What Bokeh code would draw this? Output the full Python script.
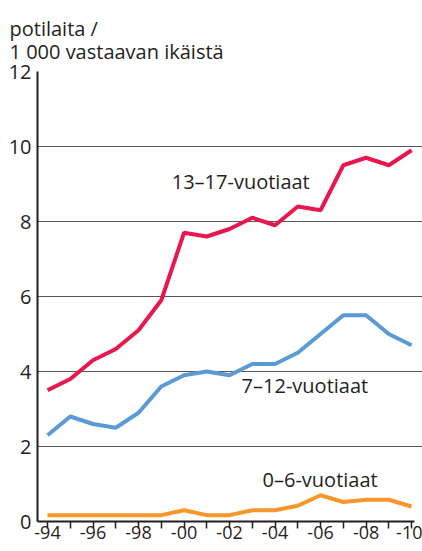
from bokeh.plotting import figure
from bokeh.models import Title, Label, FixedTicker, Range1d
from bokeh.embed import file_html
from bokeh.resources import INLINE

years = list(range(1994, 2011))
teens = [3.5, 3.8, 4.3, 4.6, 5.1, 5.9, 7.7, 7.6, 7.8, 8.1, 7.9, 8.4, 8.3, 9.5, 9.7, 9.5, 9.9]
kids = [2.3, 2.8, 2.6, 2.5, 2.9, 3.6, 3.9, 4.0, 3.9, 4.2, 4.2, 4.5, 5.0, 5.5, 5.5, 5.0, 4.7]
small = [0.17, 0.17, 0.17, 0.17, 0.17, 0.17, 0.3, 0.17, 0.17, 0.3, 0.3, 0.42, 0.7, 0.52, 0.58, 0.58, 0.4]
y_ticks = [0, 2, 4, 6, 8, 10, 12]
x_labels = {y: ("-%02d" % (y % 100) if y % 2 == 0 else "") for y in years}
title_lines = ["potilaita /", "1 000 vastaavan ikäistä"]
series_names = ["13–17-vuotiaat", "7–12-vuotiaat", "0–6-vuotiaat"]

FONT = "Open Sans"
TXT = "#231f20"

p = figure(width=422, height=551, output_backend="svg", toolbar_location=None,
           x_range=Range1d(1993.56, 2010.48), y_range=Range1d(0, 12),
           min_border_left=37, min_border_right=0, min_border_top=71, min_border_bottom=30)
p.outline_line_color = None
p.background_fill_color = "white"

p.line(years, teens, line_color="#e8184e", line_width=4)
p.line(years, kids, line_color="#5b9bd5", line_width=4)
p.line(years, small, line_color="#f7962a", line_width=4)

p.xgrid.visible = False
p.ygrid.ticker = FixedTicker(ticks=y_ticks)
p.ygrid.grid_line_color = "#555555"
p.ygrid.grid_line_width = 1

p.yaxis.ticker = FixedTicker(ticks=y_ticks)
p.yaxis.axis_line_color = TXT
p.yaxis.axis_line_width = 2
p.yaxis.major_tick_out = 0
p.yaxis.major_tick_in = 0
p.yaxis.minor_tick_out = 0
p.yaxis.minor_tick_in = 0
p.yaxis.major_label_standoff = 6
p.yaxis.major_label_text_font = FONT
p.yaxis.major_label_text_font_size = "20px"
p.yaxis.major_label_text_color = TXT

p.xaxis.ticker = FixedTicker(ticks=years)
p.xaxis.major_label_overrides = x_labels
p.xaxis.bounds = (1993.56, 2010.15)
p.xaxis.axis_line_color = TXT
p.xaxis.axis_line_width = 2
p.xaxis.major_tick_out = 7
p.xaxis.major_tick_in = 0
p.xaxis.major_tick_line_color = TXT
p.xaxis.major_tick_line_width = 1.5
p.xaxis.minor_tick_out = 0
p.xaxis.major_label_standoff = -3
p.xaxis.major_label_text_font = FONT
p.xaxis.major_label_text_font_size = "18px"
p.xaxis.major_label_text_color = TXT

p.add_layout(Title(text="\n".join(title_lines), align="left", offset=-28, text_font=FONT,
                   text_font_size="20px", text_font_style="normal", text_line_height=0.87,
                   text_color=TXT, standoff=12), "above")

for x, y, t in zip([1999.46, 2002.53, 2003.45], [9.06, 3.62, 1.11], series_names):
    p.add_layout(Label(x=x, y=y, text=t, text_font=FONT, text_font_size="20px",
                       text_color=TXT, text_baseline="alphabetic", text_align="left"))

open("out.html", "w").write(file_html(p, INLINE))
